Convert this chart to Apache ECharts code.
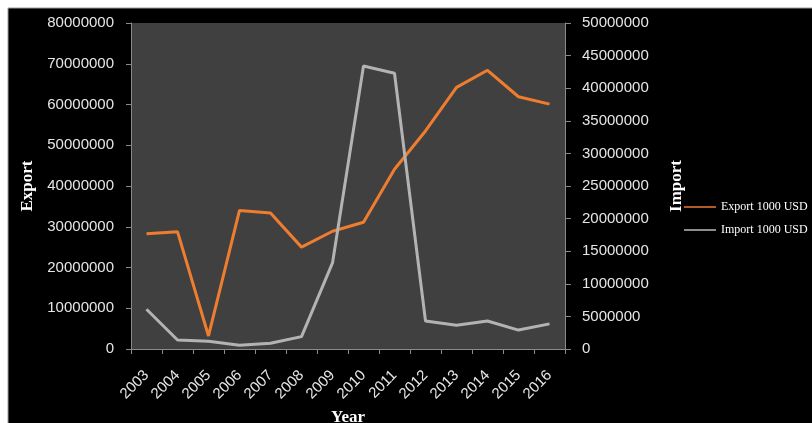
<!DOCTYPE html>
<html>
<head>
<meta charset="utf-8">
<script src="https://cdn.jsdelivr.net/npm/echarts@6/dist/echarts.min.js"></script>
<style>
  html, body { margin: 0; padding: 0; background: #fff; }
  #chart { width: 812px; height: 423px; }
</style>
</head>
<body>
<div id="chart"></div>
<script>
const years = ["2003", "2004", "2005", "2006", "2007", "2008", "2009",
  "2010", "2011", "2012", "2013", "2014", "2015", "2016"];

const exportValues = [28300000, 28800000, 3200000, 34000000, 33400000, 25000000, 28900000,
  31100000, 44100000, 53500000, 64200000, 68400000, 61900000, 60100000];

const importValues = [6100000, 1380000, 1180000, 570000, 870000, 1900000, 13200000,
  43400000, 42300000, 4300000, 3650000, 4300000, 2900000, 3850000];

const exportTicks = { min: 0, max: 80000000, interval: 10000000 };
const importTicks = { min: 0, max: 50000000, interval: 5000000 };

const axisGray = "#8a8a8a";
const labelColor = "#e6e6e6";
const sans = "Liberation Sans";
const serif = "Liberation Serif";

// plain numbers, no thousands separators
const plain = (v) => String(v);

const myChart = echarts.init(document.getElementById("chart"));

myChart.setOption({
  backgroundColor: "#000",
  animation: false,
  graphic: [
    // white page margin round the black chart area
    { type: "rect", shape: { x: 0, y: 0, width: 812, height: 8 }, style: { fill: "#fff" } },
    { type: "rect", shape: { x: 0, y: 0, width: 8, height: 423 }, style: { fill: "#fff" } },
    { type: "line", shape: { x1: 8, y1: 8, x2: 812, y2: 8 }, style: { stroke: "#9a9a9a", lineWidth: 1 } },
    { type: "line", shape: { x1: 8, y1: 8, x2: 8, y2: 423 }, style: { stroke: "#9a9a9a", lineWidth: 1 } },
  ],
  grid: {
    left: 131,
    right: 247,
    top: 23,
    bottom: 74,
    outerBoundsMode: "none",
    show: true,
    backgroundColor: "#404040",
    borderWidth: 0,
  },
  legend: {
    orient: "vertical",
    left: 683,
    top: 201,
    padding: 0,
    itemWidth: 32,
    itemHeight: 12,
    itemGap: 11,
    textStyle: { fontFamily: serif, fontSize: 12, color: "#fff" },
    data: [
      { name: "Export 1000 USD", itemStyle: { opacity: 0 }, lineStyle: { color: "#b35a28", width: 2 } },
      { name: "Import 1000 USD", itemStyle: { opacity: 0 }, lineStyle: { color: "#8c8c8c", width: 2 } },
    ],
  },
  xAxis: {
    type: "category",
    data: years,
    boundaryGap: true,
    name: "Year",
    nameLocation: "middle",
    nameGap: 58,
    nameTextStyle: { fontFamily: serif, fontWeight: "bold", fontSize: 17, color: "#fff" },
    axisLine: { lineStyle: { color: axisGray } },
    axisTick: { show: true, length: 5, alignWithLabel: false, lineStyle: { color: axisGray } },
    splitLine: { show: false },
    axisLabel: {
      interval: 0,
      rotate: 45,
      margin: 24,
      fontFamily: sans,
      fontSize: 15,
      color: labelColor,
    },
  },
  yAxis: [
    {
      type: "value",
      position: "left",
      ...exportTicks,
      name: "Export",
      nameLocation: "middle",
      nameRotate: 90,
      nameGap: 93,
      nameTextStyle: { fontFamily: serif, fontWeight: "bold", fontSize: 17, color: "#fff" },
      axisLine: { show: true, lineStyle: { color: axisGray } },
      axisTick: { show: true, length: 5, lineStyle: { color: axisGray } },
      splitLine: { show: false },
      axisLabel: { margin: 17, fontFamily: sans, fontSize: 15, color: labelColor, formatter: plain },
    },
    {
      type: "value",
      position: "right",
      ...importTicks,
      name: "Import",
      nameLocation: "middle",
      nameRotate: 90,
      nameGap: 103,
      nameTextStyle: { fontFamily: serif, fontWeight: "bold", fontSize: 17, color: "#fff" },
      axisLine: { show: true, lineStyle: { color: axisGray } },
      axisTick: { show: true, length: 6, lineStyle: { color: axisGray } },
      splitLine: { show: false },
      axisLabel: { margin: 17, fontFamily: sans, fontSize: 15, color: labelColor, formatter: plain },
    },
  ],
  series: [
    {
      name: "Export 1000 USD",
      type: "line",
      yAxisIndex: 0,
      data: exportValues,
      symbol: "none",
      color: "#ee7d2f",
      lineStyle: { color: "#ee7d2f", width: 3 },
    },
    {
      name: "Import 1000 USD",
      type: "line",
      yAxisIndex: 1,
      data: importValues,
      symbol: "none",
      color: "#b3b3b3",
      lineStyle: { color: "#b3b3b3", width: 3 },
    },
  ],
});
</script>
</body>
</html>
